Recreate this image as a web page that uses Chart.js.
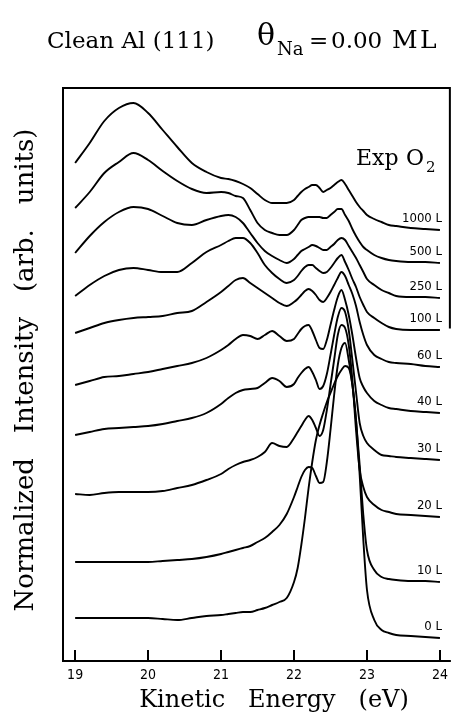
<!DOCTYPE html>
<html>
<head>
<meta charset="utf-8">
<style>
html,body{margin:0;padding:0;background:#fff;}
#wrap{width:453px;height:716px;position:relative;}
canvas{display:block;}
</style>
<script src="https://cdn.jsdelivr.net/npm/chart.js@4.4.0/dist/chart.umd.min.js"></script>
</head>
<body>
<div id="wrap"><canvas id="c" width="453" height="716"></canvas></div>
<script>
// Kinetic energy (eV) sample points shared by all spectra
const energy = [19.0,19.2,19.4,19.6,19.8,20.0,20.2,20.4,20.6,20.8,
  21.0,21.1,21.2,21.3,21.4,21.5,21.6,21.7,21.8,21.9,
  22.0,22.05,22.1,22.15,22.2,22.25,22.3,22.35,22.4,22.45,22.5,22.55,22.6,22.65,22.7,22.75,22.8,22.85,22.9,22.95,23.0,
  23.1,23.2,23.3,23.4,23.6,23.8,24.0];

// O2 exposure labels (top to bottom)
const exposures = ['1000 L','500 L','250 L','100 L','60 L','40 L','30 L','20 L','10 L','0 L'];

// Normalized intensity (arb. units, offset spectra)
const s1000 = [49.9,51.9,54.1,55.4,55.9,54.9,53.2,51.5,49.9,49.0,
  48.4,48.3,48.1,47.8,47.4,46.8,46.2,45.9,45.9,45.9,
  46.2,46.6,47.0,47.3,47.5,47.7,47.7,47.4,47.0,47.2,47.4,47.7,48.0,48.2,47.8,47.2,46.6,46.0,45.5,45.1,44.7,
  44.3,44.0,43.7,43.6,43.4,43.3,43.2];
const s500 = [45.4,47.0,48.9,50.0,50.9,50.2,49.1,48.1,47.3,46.9,
  47.0,46.9,46.6,46.4,45.2,43.9,43.2,42.9,42.7,42.7,
  43.2,43.7,44.2,44.4,44.5,44.5,44.5,44.5,44.4,44.4,44.7,45.0,45.3,45.3,44.7,44.1,43.3,42.6,42.0,41.5,41.2,
  40.7,40.4,40.2,40.1,40.0,40.0,39.9];
const s250 = [40.9,42.6,44.0,45.0,45.5,45.3,44.6,43.9,43.7,44.2,
  44.6,44.7,44.5,43.9,42.9,41.9,41.1,40.6,40.2,39.9,
  40.3,40.7,41.1,41.3,41.5,41.7,41.6,41.4,41.2,41.2,41.5,41.8,42.2,42.4,42.2,41.6,41.0,40.4,39.7,39.0,38.3,
  37.7,37.2,36.9,36.6,36.5,36.5,36.4];
const s100 = [36.6,37.7,38.6,39.2,39.4,39.2,39.0,39.0,39.9,41.0,
  41.7,42.1,42.4,42.4,41.9,40.9,39.7,38.9,38.3,37.9,
  38.2,38.6,39.1,39.5,39.7,39.7,39.4,39.1,38.9,39.0,39.4,39.9,40.4,40.7,40.0,39.2,38.3,37.5,36.5,35.7,35.0,
  34.4,33.9,33.5,33.3,33.2,33.2,33.2];
const s60 = [32.9,33.4,33.9,34.2,34.4,34.5,34.6,34.9,35.1,36.0,
  37.0,37.6,38.2,38.4,37.9,37.4,36.9,36.4,35.9,35.6,
  36.0,36.3,36.7,37.1,37.3,37.1,36.7,36.2,36.0,36.4,37.0,37.7,38.4,39.0,38.6,37.7,36.8,35.6,34.0,32.7,31.7,
  30.7,30.3,30.0,29.9,29.8,29.6,29.5];
const s40 = [27.7,28.1,28.5,28.6,28.8,29.0,29.3,29.6,29.9,30.4,
  31.2,31.7,32.3,32.7,32.6,32.3,32.7,33.1,32.6,32.1,
  32.3,32.8,33.3,33.6,33.7,33.1,32.2,31.4,31.3,32.2,33.7,35.2,36.5,37.2,36.2,34.7,32.7,30.4,28.4,27.5,26.9,
  26.1,25.7,25.4,25.3,25.1,25.0,24.9];
const s30 = [22.7,23.0,23.3,23.4,23.5,23.6,23.8,24.1,24.4,24.9,
  25.8,26.4,26.9,27.2,27.3,27.4,27.9,28.4,28.1,27.5,
  27.8,28.4,28.9,29.3,29.5,29.0,28.2,27.3,27.6,28.8,30.7,32.7,34.5,35.4,35.0,33.2,30.2,27.0,23.9,22.6,21.9,
  21.2,20.7,20.6,20.5,20.4,20.3,20.2];
const s20 = [16.8,16.7,16.9,17.0,17.0,17.0,17.1,17.4,17.7,18.2,
  18.8,19.3,19.7,20.0,20.2,20.5,21.0,21.9,21.6,21.5,
  22.4,23.0,23.6,24.2,24.6,24.2,23.4,22.6,23.2,25.2,27.7,30.2,32.7,33.7,33.4,31.7,28.2,23.2,19.2,17.5,16.5,
  15.7,15.2,15.0,14.8,14.7,14.6,14.5];
const s10 = [10.0,10.0,10.0,10.0,10.0,10.0,10.1,10.2,10.3,10.5,
  10.8,11.0,11.2,11.4,11.6,12.0,12.4,13.0,13.7,14.8,
  16.5,17.5,18.5,19.2,19.5,19.4,18.6,17.9,18.0,20.0,23.2,26.7,29.7,31.4,31.9,30.2,27.7,24.2,19.7,14.7,11.2,
  9.2,8.5,8.3,8.2,8.1,8.1,8.0];
const s0 = [4.4,4.4,4.4,4.4,4.4,4.4,4.3,4.2,4.4,4.6,
  4.7,4.8,4.9,5.0,5.0,5.2,5.4,5.7,6.0,6.4,
  8.0,9.4,11.7,14.4,17.4,20.0,22.2,23.7,24.9,26.0,26.9,27.8,28.6,29.2,29.6,29.4,27.7,24.2,18.7,12.2,7.2,
  4.2,3.2,2.9,2.7,2.6,2.5,2.4];

const xTicks = [19,20,21,22,23,24];

const series = [s1000,s500,s250,s100,s60,s40,s30,s20,s10,s0];

const SERIF = "'DejaVu Serif', 'Liberation Serif', serif";
const NARROW = "'Liberation Sans Narrow', 'DejaVu Sans Condensed', 'Liberation Sans', sans-serif";

const datasets = series.map((arr, k) => ({
  label: exposures[k],
  data: energy.map((e, i) => ({x: e, y: arr[i]})),
  borderColor: '#000',
  borderWidth: 1.9,
  pointRadius: 0,
  fill: false,
  cubicInterpolationMode: 'monotone'
}));

const framePlugin = {
  id: 'frame',
  afterDraw(chart) {
    const ctx = chart.ctx, ca = chart.chartArea, xs = chart.scales.x;
    ctx.save();
    ctx.strokeStyle = '#000';
    ctx.lineWidth = 2;
    ctx.beginPath();
    ctx.moveTo(ca.left + 1, ca.top);
    ctx.lineTo(ca.left + 1, ca.bottom);
    ctx.moveTo(ca.left, ca.bottom - 1);
    ctx.lineTo(ca.right, ca.bottom - 1);
    ctx.moveTo(ca.left, ca.top + 1);
    ctx.lineTo(ca.right, ca.top + 1);
    ctx.moveTo(ca.right - 1, ca.top);
    ctx.lineTo(ca.right - 1, ca.top + (ca.bottom - ca.top) * 0.42);
    ctx.stroke();
    ctx.lineWidth = 2;
    ctx.beginPath();
    xTicks.forEach(v => {
      const px = Math.round(xs.getPixelForValue(v));
      ctx.moveTo(px, ca.bottom - 12);
      ctx.lineTo(px, ca.bottom);
    });
    ctx.stroke();
    ctx.restore();
  }
};

const textPlugin = {
  id: 'texts',
  afterDraw(chart) {
    const ctx = chart.ctx, ys = chart.scales.y;
    ctx.save();
    ctx.fillStyle = '#000';
    ctx.textBaseline = 'alphabetic';
    // Header
    ctx.textAlign = 'left';
    ctx.font = '23px ' + SERIF;
    ctx.fillText('Clean Al (111)', 47, 48);
    ctx.font = '30px ' + SERIF;
    ctx.fillText('\u03b8', 257, 45);
    ctx.font = '18px ' + SERIF;
    ctx.fillText('Na', 277, 55);
    ctx.font = '23px ' + SERIF;
    ctx.fillText('=', 309, 48);
    ctx.fillText('0.00', 331, 48);
    ctx.font = '25px ' + SERIF;
    ctx.fillText('M', 392, 48);
    ctx.fillText('L', 420, 48);
    // Exp O2
    ctx.font = '22px ' + SERIF;
    ctx.fillText('Exp', 356, 165);
    ctx.fillText('O', 406, 165);
    ctx.font = '15px ' + SERIF;
    ctx.fillText('2', 426, 172);
    // Curve labels
    ctx.font = '13px ' + NARROW;
    ctx.textAlign = 'right';
    series.forEach((arr, k) => {
      const py = ys.getPixelForValue(arr[arr.length - 1]);
      ctx.fillText(exposures[k], 442, py - 8);
    });
    // Axis titles
    ctx.textAlign = 'center';
    ctx.font = '24px ' + SERIF;
    ctx.fillText('Kinetic   Energy   (eV)', 274, 707);
    ctx.font = '26px ' + SERIF;
    ctx.translate(33, 370);
    ctx.rotate(-Math.PI / 2);
    ctx.fillText('Normalized   Intensity   (arb.   units)', 0, 0);
    ctx.restore();
  }
};

new Chart(document.getElementById('c').getContext('2d'), {
  type: 'line',
  data: { datasets },
  options: {
    responsive: false,
    animation: false,
    devicePixelRatio: 1,
    layout: { padding: { top: 87, right: 2, left: 0, bottom: 0 } },
    plugins: { legend: { display: false }, tooltip: { enabled: false }, title: { display: false } },
    scales: {
      x: {
        type: 'linear', min: 18.82, max: 24.15,
        afterBuildTicks: s => { s.ticks = xTicks.map(v => ({ value: v })); },
        afterFit: s => { s.height = 54; },
        grid: { display: false, drawTicks: false },
        border: { display: false },
        ticks: { padding: 5, color: '#000', font: { family: NARROW, size: 14 } }
      },
      y: {
        type: 'linear', min: 0, max: 57.5,
        afterFit: s => { s.width = 62; },
        grid: { display: false, drawTicks: false },
        border: { display: false },
        ticks: { display: false }
      }
    }
  },
  plugins: [framePlugin, textPlugin]
});
</script>
</body>
</html>
